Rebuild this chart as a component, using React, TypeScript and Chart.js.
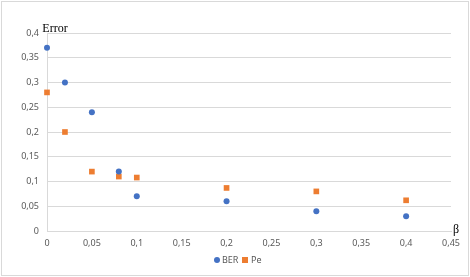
import React, { useEffect, useRef } from "react";
import { Chart, registerables } from "chart.js";

Chart.register(...registerables);

const betaValues = [0, 0.02, 0.05, 0.08, 0.1, 0.2, 0.3, 0.4];
const berValues = [0.37, 0.3, 0.24, 0.12, 0.07, 0.06, 0.04, 0.03];
const peValues = [0.28, 0.2, 0.12, 0.11, 0.108, 0.087, 0.08, 0.062];
const seriesLabels = ["BER", "Pe"];
const seriesColors = ["#4472C4", "#ED7D31"];
const yTitle = "Error";
const xTitle = "β";

const fmt = (v: number) => String(Number(Number(v).toFixed(2))).replace(".", ",");

const decorPlugin = {
  id: "decor",
  beforeDraw(chart: any) {
    const ctx = chart.ctx;
    ctx.save();
    ctx.fillStyle = "#ffffff";
    ctx.fillRect(0, 0, chart.width, chart.height);
    ctx.strokeStyle = "#d9d9d9";
    ctx.lineWidth = 1;
    ctx.strokeRect(1.5, 1.5, chart.width - 3, chart.height - 3);
    ctx.restore();
  },
  afterDraw(chart: any) {
    const ctx = chart.ctx;
    const area = chart.chartArea;
    ctx.save();
    ctx.fillStyle = "#000000";
    ctx.font = "12px 'Liberation Serif', serif";
    ctx.textAlign = "center";
    ctx.textBaseline = "alphabetic";
    ctx.fillText(yTitle, 55, 32);
    ctx.fillText(xTitle, area.right + 5, area.bottom + 2);
    // legend
    const ly = 260;
    ctx.font = "9px 'Noto Sans', sans-serif";
    ctx.textBaseline = "middle";
    ctx.textAlign = "left";
    const cx = 217;
    ctx.fillStyle = seriesColors[0];
    ctx.beginPath();
    ctx.arc(cx, ly, 3, 0, Math.PI * 2);
    ctx.fill();
    ctx.fillStyle = "#595959";
    ctx.fillText(seriesLabels[0], cx + 5, ly);
    const sx = 245;
    ctx.fillStyle = seriesColors[1];
    ctx.fillRect(sx - 3, ly - 3, 6, 6);
    ctx.fillStyle = "#595959";
    ctx.fillText(seriesLabels[1], sx + 6, ly);
    ctx.restore();
  },
};

export default function App() {
  const ref = useRef<HTMLCanvasElement>(null);
  useEffect(() => {
    document.body.style.margin = "0";
    const chart = new Chart(ref.current as HTMLCanvasElement, {
      type: "scatter",
      data: {
        datasets: [
          {
            label: seriesLabels[0],
            data: betaValues.map((x, i) => ({ x, y: berValues[i] })),
            backgroundColor: seriesColors[0],
            borderColor: seriesColors[0],
            pointStyle: "circle",
            pointRadius: 3,
            borderWidth: 0,
            clip: false,
          },
          {
            label: seriesLabels[1],
            data: betaValues.map((x, i) => ({ x, y: peValues[i] })),
            backgroundColor: seriesColors[1],
            borderColor: seriesColors[1],
            pointStyle: "rect",
            pointRadius: 4,
            borderWidth: 0,
            clip: false,
          },
        ],
      },
      options: {
        animation: false,
        responsive: false,
        devicePixelRatio: 1,
        layout: { padding: { left: 0, right: 19, top: 33, bottom: 0 } },
        plugins: { legend: { display: false }, tooltip: { enabled: false } },
        scales: {
          x: {
            type: "linear",
            min: 0,
            max: 0.45,
            ticks: {
              stepSize: 0.05,
              color: "#595959",
              font: { size: 9, family: "'Noto Sans', sans-serif" },
              padding: 7,
              maxRotation: 0,
              callback: (v: any) => fmt(v),
            },
            grid: { display: false, drawTicks: false },
            border: { display: true, color: "#d9d9d9" },
            afterFit: (s: any) => {
              s.height = 46;
            },
          },
          y: {
            min: 0,
            max: 0.4,
            ticks: {
              stepSize: 0.05,
              color: "#595959",
              font: { size: 9, family: "'Noto Sans', sans-serif" },
              padding: 8,
              callback: (v: any) => fmt(v),
            },
            grid: { color: "#d9d9d9", drawTicks: false },
            border: { display: true, color: "#d9d9d9" },
            afterFit: (s: any) => {
              s.width = 47;
            },
          },
        },
      },
      plugins: [decorPlugin],
    });
    return () => chart.destroy();
  }, []);
  return <canvas ref={ref} width={470} height={277} style={{ display: "block" }} />;
}
